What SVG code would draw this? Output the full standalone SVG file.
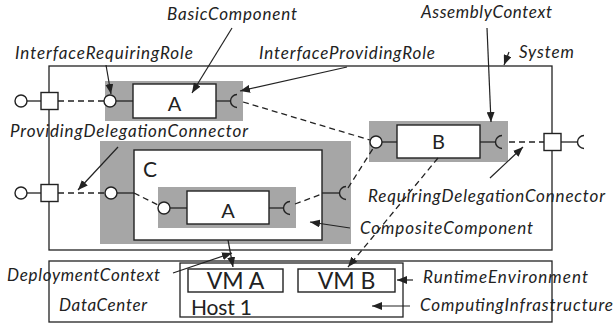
<svg xmlns="http://www.w3.org/2000/svg" width="614" height="326" viewBox="0 0 614 326">
<style>
.lbl{font-family:Lato,"Open Sans","Liberation Sans",sans-serif;font-style:italic;font-size:17px;fill:#222}
.big{font-family:Lato,"Open Sans","Liberation Sans",sans-serif;fill:#222}
.box{fill:#fff;stroke:#222;stroke-width:1.4}
.frame{fill:none;stroke:#222;stroke-width:1.3}
.gray{fill:#a6a6a6;stroke:none}
.ln{fill:none;stroke:#222;stroke-width:1.3}
.dash{fill:none;stroke:#222;stroke-width:1.3;stroke-dasharray:6 4}
.circ{fill:#fff;stroke:#222;stroke-width:1.4}
.sock{fill:none;stroke:#222;stroke-width:1.4}
.arr{fill:none;stroke:#222;stroke-width:1.2;marker-end:url(#ah)}
</style>
<defs>
<marker id="ah" viewBox="0 0 10 8" refX="10" refY="4" markerWidth="10" markerHeight="8" markerUnits="userSpaceOnUse" orient="auto">
<path d="M0,0 L10,4 L0,8 Z" fill="#222"/>
</marker>
</defs>
<rect width="614" height="326" fill="#fff"/>

<g id="system">
<rect class="frame" x="49" y="66" width="503" height="184"/>
</g>
<g id="datacenter">
<rect class="frame" x="49" y="261" width="503" height="61"/>
<text class="lbl" x="59" y="311" textLength="88">DataCenter</text>
</g>
<g id="host1">
<rect class="frame" x="180" y="263" width="223" height="54"/>
<text class="big" x="191" y="314.5" font-size="21" textLength="61">Host 1</text>
</g>
<g id="vmA">
<rect class="box" x="188" y="269" width="95" height="23"/>
<text class="big" x="235.5" y="288.5" font-size="23" text-anchor="middle">VM A</text>
</g>
<g id="vmB">
<rect class="box" x="298" y="269" width="97" height="23"/>
<text class="big" x="346.5" y="288.5" font-size="23" text-anchor="middle">VM B</text>
</g>

<g id="compositeC">
<rect class="gray" x="100" y="141" width="251" height="103"/>
<rect class="box" x="134" y="150" width="188" height="90"/>
<text class="big" x="143" y="177" font-size="21">C</text>
<line class="ln" x1="117" y1="193" x2="134" y2="193"/>
<circle class="circ" cx="111" cy="193" r="6"/>
<line class="ln" x1="322" y1="193" x2="340" y2="193"/>
<path class="sock" d="M346,186.5 A6.5,6.5 0 0 0 346,199.5"/>
</g>

<g id="innerA">
<rect class="gray" x="158" y="187" width="138" height="41"/>
<rect class="box" x="187" y="191" width="82" height="33"/>
<text class="big" x="228" y="217.5" font-size="20" text-anchor="middle">A</text>
<line class="ln" x1="170" y1="208" x2="187" y2="208"/>
<circle class="circ" cx="164" cy="208" r="6"/>
<line class="ln" x1="269" y1="208" x2="284" y2="208"/>
<path class="sock" d="M290,201.5 A6.5,6.5 0 0 0 290,214.5"/>
</g>

<g id="componentA">
<rect class="gray" x="105" y="81" width="138" height="40"/>
<rect class="box" x="133" y="84" width="83" height="34"/>
<text class="big" x="174.5" y="110.5" font-size="20" text-anchor="middle">A</text>
<line class="ln" x1="116" y1="101" x2="133" y2="101"/>
<circle class="circ" cx="110" cy="101" r="6"/>
<line class="ln" x1="216" y1="101" x2="231" y2="101"/>
<path class="sock" d="M237,94.5 A6.5,6.5 0 0 0 237,107.5"/>
</g>

<g id="componentB">
<rect class="gray" x="369" y="121" width="139" height="41"/>
<rect class="box" x="397" y="125" width="83" height="33"/>
<text class="big" x="438.5" y="148.5" font-size="20" text-anchor="middle">B</text>
<line class="ln" x1="382" y1="142" x2="397" y2="142"/>
<circle class="circ" cx="376" cy="142" r="6"/>
<line class="ln" x1="480" y1="142" x2="496" y2="142"/>
<path class="sock" d="M502,135.5 A6.5,6.5 0 0 0 502,148.5"/>
</g>

<g id="portTopLeft">
<line class="ln" x1="27" y1="101" x2="41" y2="101"/>
<circle class="circ" cx="21" cy="101" r="6"/>
<rect class="box" x="41" y="92.5" width="17" height="17"/>
</g>
<g id="portBottomLeft">
<line class="ln" x1="27" y1="193" x2="41" y2="193"/>
<circle class="circ" cx="21" cy="193" r="6"/>
<rect class="box" x="41" y="184.5" width="17" height="17"/>
</g>
<g id="portRight">
<line class="ln" x1="561" y1="142" x2="578" y2="142"/>
<path class="sock" d="M584,135.5 A6.5,6.5 0 0 0 584,148.5"/>
<rect class="box" x="544" y="133.5" width="17" height="17"/>
</g>

<g id="connectors">
<line class="dash" x1="58" y1="101" x2="104" y2="101"/>
<line class="dash" x1="58" y1="193" x2="105" y2="193"/>
<line class="dash" x1="243" y1="102" x2="370" y2="140"/>
<line class="dash" x1="134" y1="193" x2="158" y2="205"/>
<line class="dash" x1="295" y1="204" x2="322" y2="194"/>
<line class="dash" x1="348" y1="188" x2="374" y2="147"/>
<line class="dash" x1="509" y1="142" x2="544" y2="142"/>
<line class="dash" x1="438" y1="158" x2="348" y2="267" style="marker-end:url(#ah)"/>
<line class="ln" x1="228" y1="240" x2="233" y2="267" style="marker-end:url(#ah)"/>
</g>

<g id="labels">
<text class="lbl" x="167" y="20" textLength="130">BasicComponent</text>
<line class="arr" x1="232" y1="28" x2="192" y2="93"/>
<text class="lbl" x="15" y="59" textLength="178">InterfaceRequiringRole</text>
<line class="arr" x1="106" y1="65" x2="111" y2="94"/>
<text class="lbl" x="259" y="59" textLength="176">InterfaceProvidingRole</text>
<line class="arr" x1="347" y1="67" x2="240" y2="91"/>
<text class="lbl" x="421" y="18" textLength="131">AssemblyContext</text>
<line class="arr" x1="487" y1="28" x2="491" y2="122"/>
<text class="lbl" x="519" y="58" textLength="55">System</text>
<line class="arr" x1="509" y1="52" x2="504" y2="65"/>
<text class="lbl" x="10" y="137" textLength="238">ProvidingDelegationConnector</text>
<line class="arr" x1="118" y1="147" x2="78" y2="190"/>
<text class="lbl" x="368" y="202" textLength="237">RequiringDelegationConnector</text>
<line class="arr" x1="490" y1="178" x2="523" y2="147"/>
<text class="lbl" x="360" y="234" textLength="173">CompositeComponent</text>
<line class="arr" x1="350" y1="228" x2="310" y2="222"/>
<text class="lbl" x="7" y="281" textLength="153">DeploymentContext</text>
<line class="arr" x1="173" y1="273" x2="232" y2="253"/>
<text class="lbl" x="423" y="283" textLength="165">RuntimeEnvironment</text>
<line class="arr" x1="413" y1="280" x2="397" y2="280"/>
<text class="lbl" x="420" y="311" textLength="193">ComputingInfrastructure</text>
<line class="arr" x1="410" y1="306" x2="372" y2="306"/>
</g>
</svg>
